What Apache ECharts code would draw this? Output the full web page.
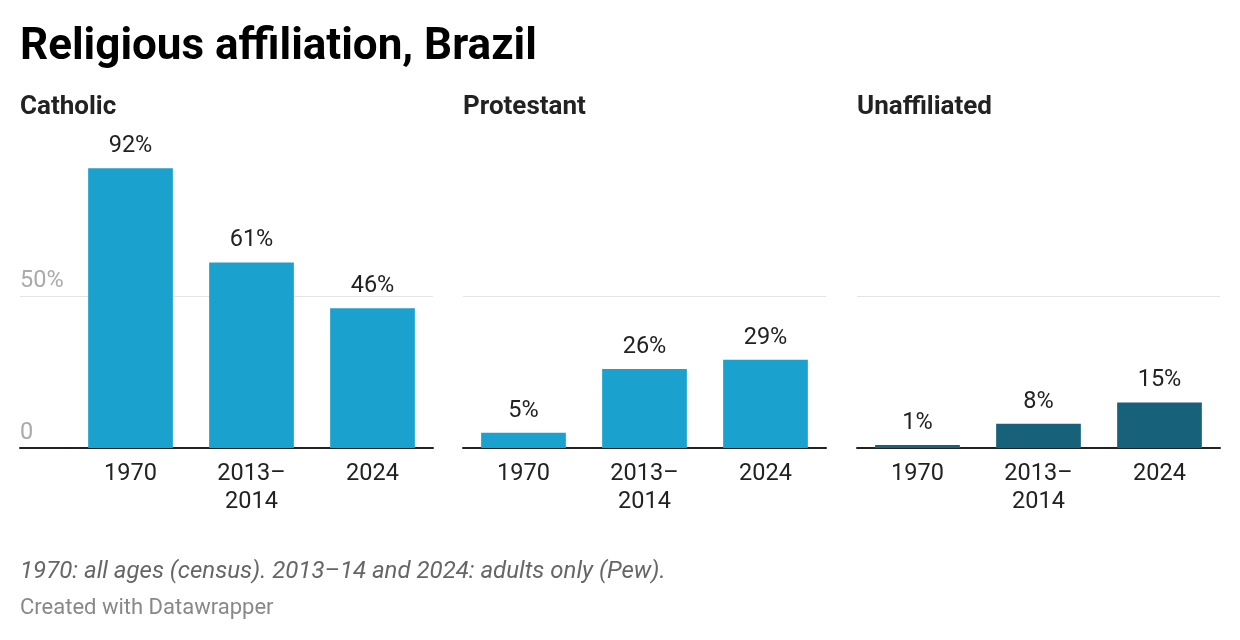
<!DOCTYPE html>
<html>
<head>
<meta charset="utf-8">
<script src="https://cdn.jsdelivr.net/npm/echarts@6/dist/echarts.min.js"></script>
<style>
html,body{margin:0;padding:0;background:#fff;}
#chart{width:1240px;height:640px;}
</style>
</head>
<body>
<div id="chart"></div>
<script>
const categories = ['1970', '2013–\n2014', '2024'];
const catholic = [92, 61, 46];
const protestant = [5, 26, 29];
const unaffiliated = [1, 8, 15];
const panelTitles = ['Catholic', 'Protestant', 'Unaffiliated'];
const yTicks = [0, 50];

const FONT = 'Roboto, "Noto Sans", sans-serif';
const lightBlue = '#1ba1cd';
const darkBlue = '#18617b';

const chart = echarts.init(document.getElementById('chart'), null, {renderer: 'canvas'});

const TOP = 144, HEIGHT = 304;
const grids = [
  {left: 20, width: 50, top: TOP, height: HEIGHT},
  {left: 70, width: 363, top: TOP, height: HEIGHT},
  {left: 463, width: 363, top: TOP, height: HEIGHT},
  {left: 857, width: 363, top: TOP, height: HEIGHT}
];

const axisLineStyle = {show: true, lineStyle: {color: '#222', width: 2}};

const xAxes = grids.map((g, i) => ({
  type: 'category',
  gridIndex: i,
  data: i === 0 ? [''] : categories,
  axisLine: axisLineStyle,
  axisTick: {show: false},
  axisLabel: {
    show: i !== 0,
    fontFamily: FONT, fontSize: 23.5, color: '#222',
    margin: 12, lineHeight: 28, interval: 0
  }
}));

const yAxes = grids.map((g, i) => ({
  type: 'value',
  gridIndex: i,
  min: 0, max: 100, interval: 50,
  axisLine: {show: false},
  axisTick: {show: false},
  splitLine: {show: true, showMaxLine: false, lineStyle: {color: '#e3e3e3', width: 1}},
  axisLabel: {
    show: i === 0,
    inside: true,
    margin: 0,
    showMaxLabel: false,
    verticalAlign: 'bottom',
    padding: [0, 0, 3, 0],
    fontFamily: FONT, fontSize: 23.5, color: '#aaaaaa',
    formatter: v => (yTicks.indexOf(v) >= 0 ? (v === 0 ? '0' : v + '%') : '')
  }
}));

function barSeries(data, idx, color) {
  return {
    type: 'bar',
    xAxisIndex: idx, yAxisIndex: idx,
    data: data,
    barWidth: '70%',
    itemStyle: {color: color},
    label: {
      show: true, position: 'top', distance: 10,
      fontFamily: FONT, fontSize: 23.5, color: '#222',
      formatter: p => p.value + '%'
    }
  };
}

const subStyle = {fontFamily: FONT, fontSize: 26, fontWeight: 'bold', color: '#222'};

const option = {
  backgroundColor: '#fff',
  animation: false,
  title: [
    {text: 'Religious affiliation, Brazil', left: 20, top: 26, padding: 0,
     textStyle: {fontFamily: FONT, fontSize: 44, fontWeight: 'bold', color: '#000'}},
    {text: panelTitles[0], left: 20, top: 94, padding: 0, textStyle: subStyle},
    {text: panelTitles[1], left: 463, top: 94, padding: 0, textStyle: subStyle},
    {text: panelTitles[2], left: 857, top: 94, padding: 0, textStyle: subStyle},
    {text: '1970: all ages (census). 2013–14 and 2024: adults only (Pew).', left: 20, top: 560, padding: 0,
     textStyle: {fontFamily: FONT, fontSize: 24, fontStyle: 'italic', fontWeight: 'normal', color: '#666'}},
    {text: 'Created with Datawrapper', left: 20, top: 597, padding: 0,
     textStyle: {fontFamily: FONT, fontSize: 22, fontWeight: 'normal', color: '#888'}}
  ],
  grid: grids,
  xAxis: xAxes,
  yAxis: yAxes,
  series: [
    barSeries(catholic, 1, lightBlue),
    barSeries(protestant, 2, lightBlue),
    barSeries(unaffiliated, 3, darkBlue)
  ]
};

chart.setOption(option);
</script>
</body>
</html>
